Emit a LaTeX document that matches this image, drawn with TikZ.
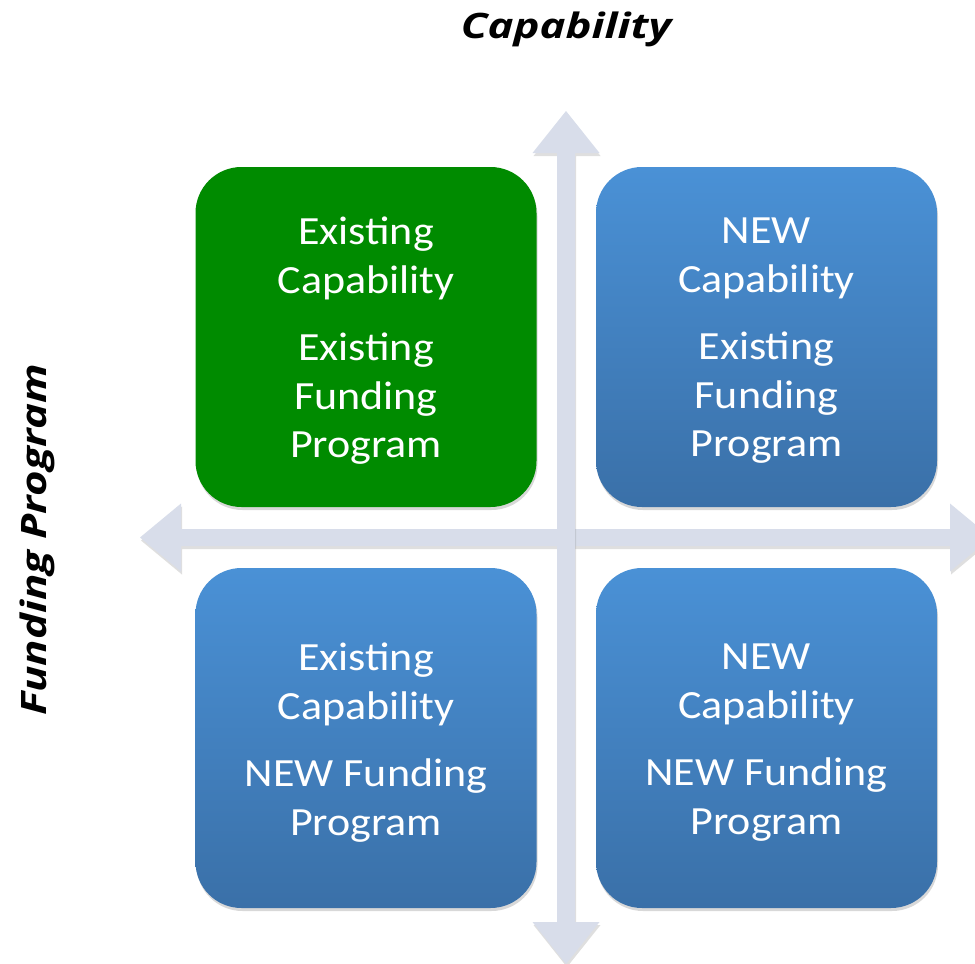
\documentclass[tikz,border=0pt]{standalone}
\usepackage{fontspec}
\setmainfont{Carlito}
\newfontfamily\boxfont[FakeStretch=1.1]{Carlito}
\newfontfamily\titlefont[FakeStretch=1.25]{Open Sans}
\usetikzlibrary{shadows}
\definecolor{qgreen}{HTML}{008B00}
\definecolor{qbluetop}{HTML}{4A91D6}
\definecolor{qbluebot}{HTML}{3A70A8}
\definecolor{axiscol}{HTML}{D8DDEA}
\tikzset{
  quad/.style={rectangle, rounded corners=46pt, minimum width=341pt, minimum height=340pt, inner sep=0pt,
    drop shadow={opacity=0.3, shadow xshift=1pt, shadow yshift=-3pt}},
  greenquad/.style={quad, fill=qgreen},
  bluequad/.style={quad, top color=qbluetop, bottom color=qbluebot},
  qtext/.style={text=white, align=center, inner sep=0pt, font=\boxfont\fontsize{40}{48.5}\selectfont},
  axislabel/.style={inner sep=0pt, font=\titlefont\bfseries\itshape\fontsize{35}{40}\selectfont},
  axisarrow/.style={fill=axiscol, drop shadow={opacity=0.25, shadow xshift=1pt, shadow yshift=-3pt}}
}
\begin{document}
\begin{tikzpicture}[x=1pt,y=-1pt]
\useasboundingbox[fill=white] (0,0) rectangle (975,964);
% axis coordinates
\coordinate (ltip) at (140,537.5);
\coordinate (rtip) at (991,537.5);
\coordinate (ttip) at (566,111);
\coordinate (btip) at (566,964);
% horizontal arrow
\path[axisarrow] (ltip) -- (181,503.5) -- (181,529) -- (950,529) -- (950,503.5) -- (rtip)
  -- (950,571.5) -- (950,546) -- (181,546) -- (181,571.5) -- cycle;
% vertical arrow
\path[axisarrow] (ttip) -- (599.5,153) -- (575,153) -- (575,922) -- (599.5,922) -- (btip)
  -- (532.5,922) -- (557,922) -- (557,153) -- (532.5,153) -- cycle;
% quadrants
\node[greenquad] (tl) at (366,337) {};
\node[bluequad] (tr) at (766.5,337) {};
\node[bluequad] (bl) at (366,738) {};
\node[bluequad] (br) at (766.5,738) {};
\node[qtext, yshift=-4pt] (tltext) at (tl.center) {Existing\\Capability\\[19pt]Existing\\Funding\\Program};
\node[qtext, yshift=-4pt] (trtext) at (tr.center) {NEW\\Capability\\[19pt]Existing\\Funding\\Program};
\node[qtext, yshift=-4.5pt] (bltext) at (bl.center) {Existing\\Capability\\[19pt]NEW Funding\\Program};
\node[qtext, yshift=-4.5pt] (brtext) at (br.center) {NEW\\Capability\\[19pt]NEW Funding\\Program};
% axis labels
\node[axislabel, anchor=base] (caplabel) at (566,38) {Capability};
\node[axislabel, anchor=base, rotate=90] (fundlabel) at (46,540) {Funding Program};
\end{tikzpicture}
\end{document}
